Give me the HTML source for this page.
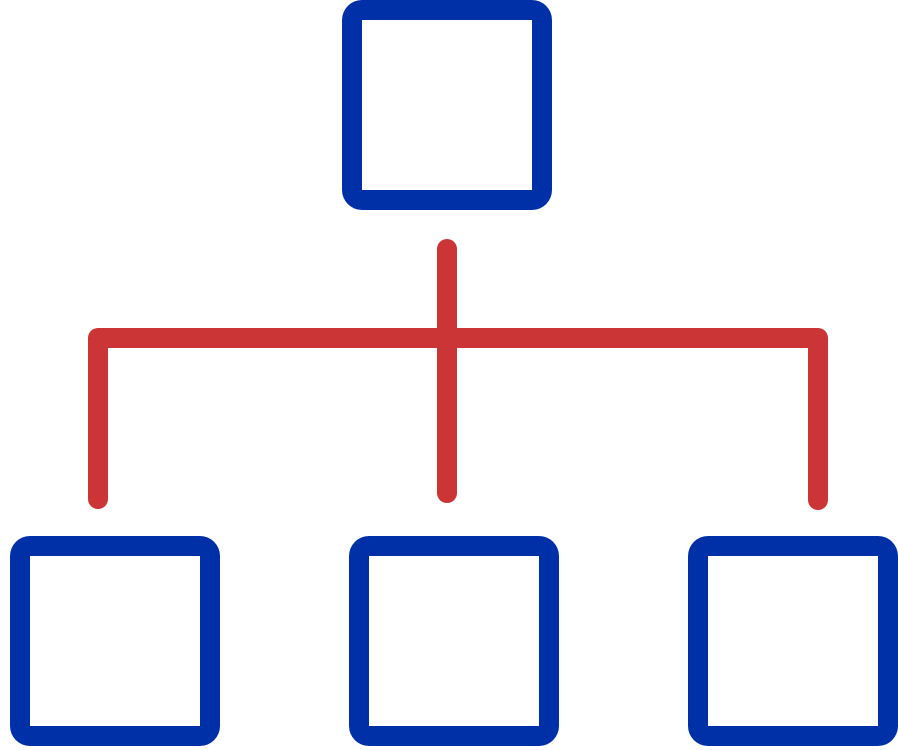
<!DOCTYPE html>
<html><head><style>html,body{margin:0;padding:0;background:#fff;width:898px;height:750px;overflow:hidden}</style></head>
<body>
<svg width="898" height="750" viewBox="0 0 898 750" xmlns="http://www.w3.org/2000/svg">
<g fill="#0030a8">
<rect x="342" y="0" width="210" height="210" rx="20"/>
<rect x="10" y="536" width="210" height="210" rx="20"/>
<rect x="349" y="536" width="210" height="210" rx="20"/>
<rect x="688" y="536" width="210" height="210" rx="20"/>
</g>
<g fill="#fff">
<rect x="362" y="20" width="170" height="170"/>
<rect x="30" y="556" width="170" height="170"/>
<rect x="369" y="556" width="170" height="170"/>
<rect x="708" y="556" width="170" height="170"/>
</g>
<g fill="none" stroke="#cc3535" stroke-width="20" stroke-linecap="round" stroke-linejoin="round">
<path d="M98 499 V338 H818 V500"/>
<path d="M447 249 V493"/>
</g>
</svg>
</body></html>
